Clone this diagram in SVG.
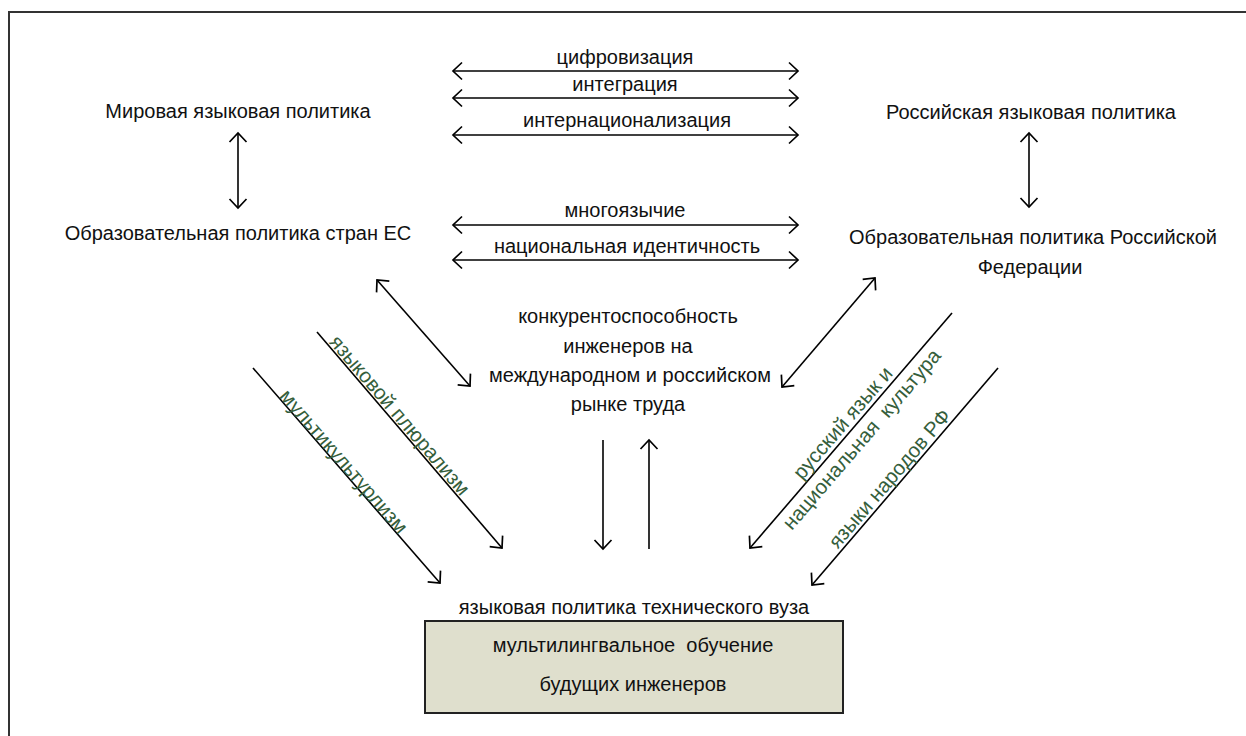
<svg xmlns="http://www.w3.org/2000/svg" width="1246" height="736" viewBox="0 0 1246 736">
<style>
text{font-family:"Liberation Sans",Arial,sans-serif;font-size:20px;fill:#111;}
.c{text-anchor:middle;}
.g{fill:#355e3b;text-anchor:middle;font-size:20.5px;}
.ln{stroke:#000;stroke-width:1.6;fill:none;}
.a2{marker-start:url(#ah);marker-end:url(#ah);}
.a1{marker-end:url(#ah);}
</style>
<defs>
<marker id="ah" viewBox="-12 -12 16 24" markerWidth="16" markerHeight="24" refX="0" refY="0" orient="auto-start-reverse" markerUnits="userSpaceOnUse">
<path d="M-9,-8.5 L0,0 L-9,8.5" fill="none" stroke="#000" stroke-width="1.7"/>
</marker>
</defs>
<rect x="9" y="12" width="1250" height="740" fill="#fff" stroke="#333" stroke-width="2"/>

<g id="node-world"><text class="c" x="238" y="118">Мировая языковая политика</text></g>
<g id="node-eu"><text class="c" x="238" y="240">Образовательная политика стран ЕС</text></g>
<g id="node-russia"><text class="c" x="1031" y="119">Российская языковая политика</text></g>
<g id="node-rf"><text class="c" x="1033" y="244">Образовательная политика Российской</text><text class="c" x="1030" y="274">Федерации</text></g>
<g id="node-center">
<text class="c" x="628" y="323">конкурентоспособность</text>
<text class="c" x="628" y="353">инженеров на</text>
<text class="c" x="630" y="382">международном и российском</text>
<text class="c" x="628" y="411">рынке труда</text>
</g>
<g id="node-vuz"><text class="c" x="634" y="614">языковая политика технического вуза</text></g>
<g id="node-box">
<rect x="425" y="621" width="418" height="92" fill="#dfdfcd" stroke="#222" stroke-width="2"/>
<text class="c" x="633" y="652" xml:space="preserve">мультилингвальное  обучение</text>
<text class="c" x="633" y="691">будущих инженеров</text>
</g>

<g id="connectors">
<line class="ln a2" x1="238" y1="133" x2="238" y2="208"/>
<line class="ln a2" x1="1029" y1="133" x2="1029" y2="207"/>
<line class="ln a2" x1="453" y1="71" x2="798" y2="71"/>
<line class="ln a2" x1="453" y1="98" x2="798" y2="98"/>
<line class="ln a2" x1="453" y1="135" x2="798" y2="135"/>
<line class="ln a2" x1="453" y1="225" x2="798" y2="225"/>
<line class="ln a2" x1="453" y1="260" x2="798" y2="260"/>
<line class="ln a2" x1="377" y1="280" x2="470" y2="386"/>
<line class="ln a2" x1="875" y1="278" x2="782" y2="387"/>
<line class="ln a1" x1="317" y1="332" x2="502" y2="548"/>
<line class="ln a1" x1="253" y1="368" x2="440" y2="583"/>
<line class="ln a1" x1="952" y1="313" x2="750" y2="548"/>
<line class="ln a1" x1="998" y1="368" x2="812" y2="585"/>
<line class="ln a1" x1="603" y1="440" x2="603" y2="549"/>
<line class="ln a1" x1="649" y1="549" x2="649" y2="440"/>
<text class="c" x="625" y="64">цифровизация</text>
<text class="c" x="625" y="91">интеграция</text>
<text class="c" x="627" y="127">интернационализация</text>
<text class="c" x="625" y="217">многоязычие</text>
<text class="c" x="627" y="253">национальная идентичность</text>
<text class="g" transform="translate(393,421) rotate(49.4)" x="0" y="-2">языковой плюрализм</text>
<text class="g" transform="translate(338.5,466) rotate(49)" x="0" y="0">мультикультурлизм</text>
<g transform="translate(851,430) rotate(-49.3)">
<text class="g" x="0" y="-4">русский язык и</text>
<text class="g" x="0" y="21" xml:space="preserve">национальная  культура</text>
</g>
<text class="g" transform="translate(897,485) rotate(-49.4)" x="0" y="-3">языки народов РФ</text>
</g>
</svg>
